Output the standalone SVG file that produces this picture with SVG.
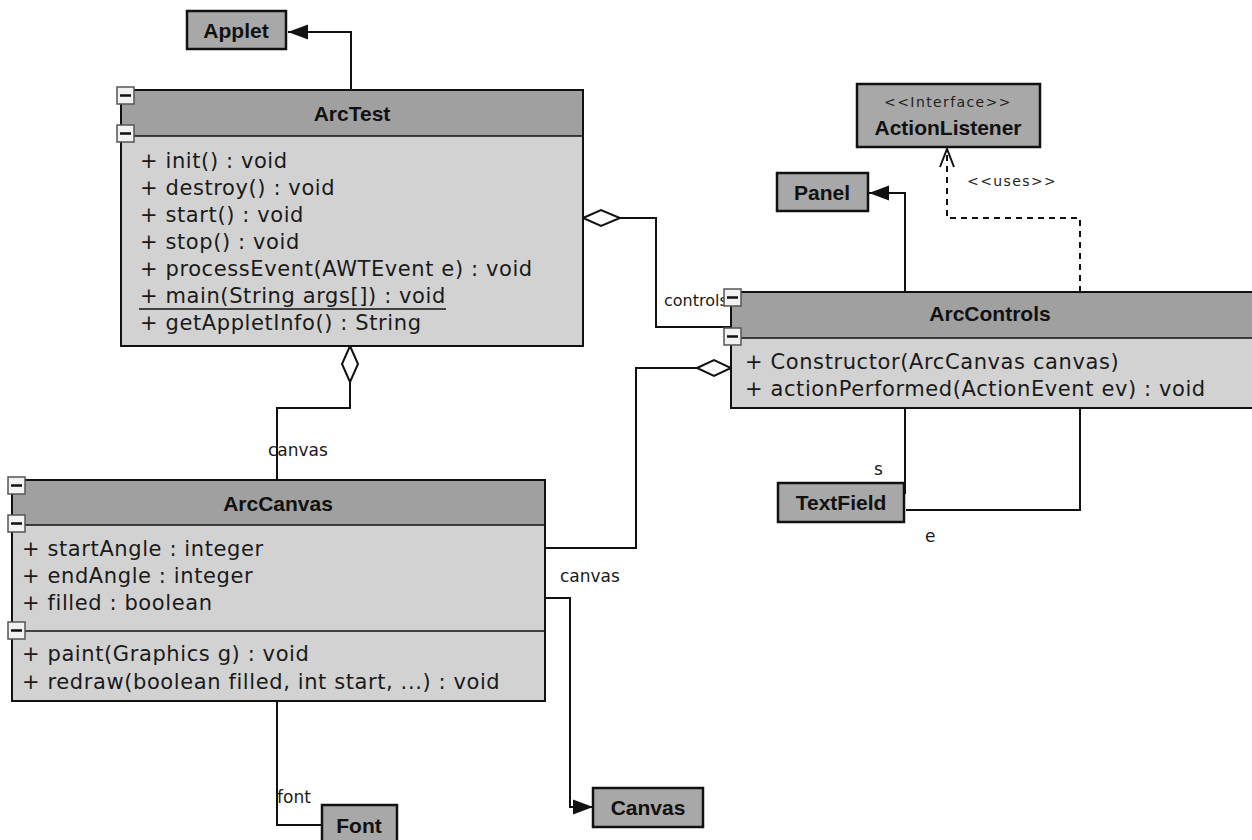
<svg xmlns="http://www.w3.org/2000/svg" width="1252" height="840" viewBox="0 0 1252 840">
<style>
.bg{fill:#ffffff}
.cls{fill:#d2d2d2;stroke:#111;stroke-width:2}
.hdr{fill:#a0a0a0}
.div{stroke:#111;stroke-width:1.5}
.ref{fill:#a8a8a8;stroke:#111;stroke-width:2.5}
.ttl{font-family:"Liberation Sans",Arial,sans-serif;font-weight:bold;font-size:21px;fill:#111;text-anchor:middle}
.mem{font-family:"DejaVu Sans",sans-serif;font-size:21px;fill:#1a1a1a;letter-spacing:0.6px}
.lbl{font-family:"DejaVu Sans",sans-serif;font-size:17px;fill:#1a1a1a}
.ster{font-family:"DejaVu Sans",sans-serif;font-size:14px;fill:#222;letter-spacing:1.4px}
.tog{fill:#f2f2f2;stroke:#555;stroke-width:1.5}
.dash{stroke:#111;stroke-width:2.5}
.ln{fill:none;stroke:#111;stroke-width:2}
.dl{fill:none;stroke:#111;stroke-width:2;stroke-dasharray:6,5}
.dia{fill:#fff;stroke:#111;stroke-width:2}
</style>
<defs>
<marker id="fill" markerUnits="userSpaceOnUse" markerWidth="21" markerHeight="17" viewBox="0 0 21 17" refX="20" refY="8.5" orient="auto">
<path d="M0,1 L20,8.5 L0,16 z" fill="#111"/>
</marker>
<marker id="open" markerUnits="userSpaceOnUse" markerWidth="20" markerHeight="18" viewBox="0 0 20 18" refX="19" refY="9" orient="auto">
<path d="M1,2 L19,9 L1,16" fill="none" stroke="#111" stroke-width="2"/>
</marker>
<g id="tog">
<rect class="tog" x="0" y="0" width="17" height="17"/>
<line class="dash" x1="3" y1="8.5" x2="14" y2="8.5"/>
</g>
</defs>
<rect class="bg" x="0" y="0" width="1252" height="840"/>

<g id="connectors">
<path class="ln" d="M351,90 V32 H288" marker-end="url(#fill)"/>
<path class="ln" d="M905,292 V193 H869" marker-end="url(#fill)"/>
<path class="dl" d="M1080,292 V218 H947 V149" marker-end="url(#open)"/>
<path class="ln" d="M620,218 H656 V327 H731"/>
<polygon class="dia" points="583,218 601,210 620,218 601,226"/>
<path class="ln" d="M350,382 V408 H277 V480"/>
<polygon class="dia" points="350,346 358,364 350,382 342,364"/>
<path class="ln" d="M545,548 H636 V368 H697"/>
<polygon class="dia" points="697,368 714,360 731,368 714,376"/>
<path class="ln" d="M545,598 H570 V807 H593" marker-end="url(#fill)"/>
<path class="ln" d="M277,700 V825 H322"/>
<path class="ln" d="M905,408 V494"/>
<path class="ln" d="M1080,408 V510 H906"/>
<text class="lbl" x="664" y="306" style="font-size:16px">controls</text>
<text class="lbl" x="268" y="456">canvas</text>
<text class="lbl" x="560" y="582">canvas</text>
<text class="lbl" x="874" y="475">s</text>
<text class="lbl" x="925" y="542">e</text>
<text class="lbl" x="277" y="803">font</text>
<text class="ster" x="967" y="186">&lt;&lt;uses&gt;&gt;</text>
</g>

<g id="Applet">
<rect class="ref" x="187" y="11" width="99" height="38"/>
<text class="ttl" x="236" y="38">Applet</text>
</g>

<g id="ActionListener">
<rect class="ref" x="857" y="84" width="183" height="63"/>
<text class="ster" x="948" y="107" text-anchor="middle">&lt;&lt;Interface&gt;&gt;</text>
<text class="ttl" x="948" y="135">ActionListener</text>
</g>

<g id="Panel">
<rect class="ref" x="777" y="173" width="91" height="38"/>
<text class="ttl" x="822" y="200">Panel</text>
</g>

<g id="TextField">
<rect class="ref" x="778" y="483" width="126" height="39"/>
<text class="ttl" x="841" y="510">TextField</text>
</g>

<g id="Canvas">
<rect class="ref" x="593" y="788" width="110" height="39"/>
<text class="ttl" x="648" y="815">Canvas</text>
</g>

<g id="Font">
<rect class="ref" x="322" y="805" width="75" height="40"/>
<text class="ttl" x="359" y="833">Font</text>
</g>

<g id="ArcTest">
<rect class="cls" x="121" y="90" width="462" height="256"/>
<rect class="hdr" x="122" y="91" width="460" height="45"/>
<line class="div" x1="121" y1="136" x2="583" y2="136"/>
<text class="ttl" x="352" y="121">ArcTest</text>
<text class="mem" x="140" y="168">+ init() : void</text>
<text class="mem" x="140" y="195">+ destroy() : void</text>
<text class="mem" x="140" y="222">+ start() : void</text>
<text class="mem" x="140" y="249">+ stop() : void</text>
<text class="mem" x="140" y="276">+ processEvent(AWTEvent e) : void</text>
<text class="mem" x="140" y="303">+ main(String args[]) : void</text>
<line class="div" x1="139" y1="309" x2="446" y2="309"/>
<text class="mem" x="140" y="330">+ getAppletInfo() : String</text>
<use href="#tog" x="117" y="87"/>
<use href="#tog" x="117" y="125"/>
</g>

<g id="ArcControls">
<rect class="cls" x="731" y="292" width="540" height="116"/>
<rect class="hdr" x="732" y="293" width="530" height="45"/>
<line class="div" x1="731" y1="338" x2="1252" y2="338"/>
<text class="ttl" x="990" y="321">ArcControls</text>
<text class="mem" x="745" y="369">+ Constructor(ArcCanvas canvas)</text>
<text class="mem" x="745" y="396">+ actionPerformed(ActionEvent ev) : void</text>
<use href="#tog" x="724" y="289"/>
<use href="#tog" x="724" y="328"/>
</g>

<g id="ArcCanvas">
<rect class="cls" x="12" y="480" width="533" height="221"/>
<rect class="hdr" x="13" y="481" width="531" height="44"/>
<line class="div" x1="12" y1="525" x2="545" y2="525"/>
<text class="ttl" x="278" y="511">ArcCanvas</text>
<text class="mem" x="22" y="556">+ startAngle : integer</text>
<text class="mem" x="22" y="583">+ endAngle : integer</text>
<text class="mem" x="22" y="610">+ filled : boolean</text>
<line class="div" x1="12" y1="631" x2="545" y2="631"/>
<text class="mem" x="22" y="661">+ paint(Graphics g) : void</text>
<text class="mem" x="22" y="689">+ redraw(boolean filled, int start, ...) : void</text>
<use href="#tog" x="8" y="477"/>
<use href="#tog" x="8" y="515"/>
<use href="#tog" x="8" y="622"/>
</g>
</svg>
